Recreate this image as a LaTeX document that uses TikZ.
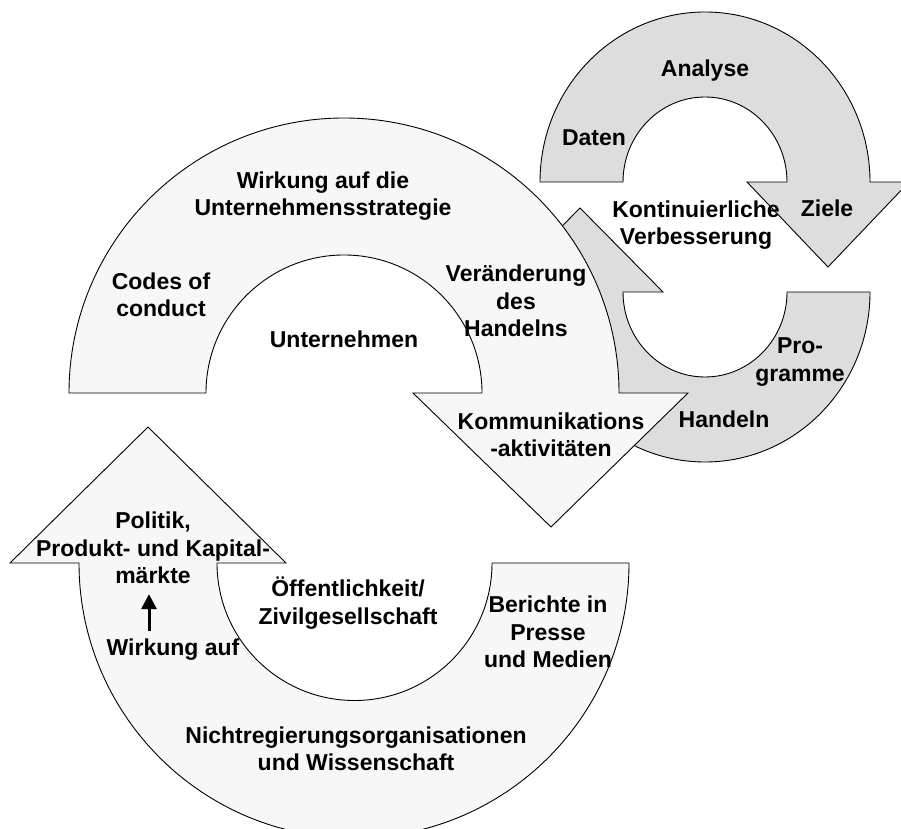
\documentclass[tikz,border=0pt]{standalone}
\usepackage{fontspec}
\setmainfont{Liberation Sans}
\usepackage{tikz}
\usetikzlibrary{calc, arrows.meta}
\usepackage{xcolor}
\definecolor{kreisgrau}{RGB}{221,221,221}
\definecolor{kreishell}{RGB}{247,247,247}

\begin{document}
\begin{tikzpicture}[x=1pt, y=1pt,
		bogen/.style={draw=black, line width=0.9pt, line join=miter},
		beschriftung/.style={align=center, inner sep=1pt, font=\fontsize{23}{27.5}\selectfont\bfseries},
		wirkpfeil/.style={-{Triangle[length=15pt,width=15pt]}, line width=3pt}]
			\useasboundingbox (0,0) rectangle (901,828);%
			%
			% kleiner Kreis: kontinuierliche Verbesserung
			\filldraw[bogen, fill=kreisgrau] (623,536) arc (180:360:82 and 85) -- (870,536) arc (0:-180:165 and 170) -- (497,536) -- (580,620) -- (663,536) -- cycle;%
			\filldraw[bogen, fill=kreisgrau] (540,646) arc (180:0:165 and 170) -- (909,646) -- (828,561) -- (747,646) -- (787,646) arc (0:180:82 and 85) -- cycle;%
			%
			% grosser Kreis: Unternehmen und Oeffentlichkeit
			\filldraw[bogen, fill=kreishell] (79,265) -- (10,265) -- (148,401) -- (286,265) -- (217,265) arc (180:360:137.5) -- (629,265) arc (0:-180:275) -- cycle;%
			\filldraw[bogen, fill=kreishell] (69,435) arc (180:0:275) -- (688,435) -- (551,301) -- (413,435) -- (482,435) arc (0:180:138) -- cycle;%
			%
			\node[beschriftung] (analyse) at (705,757) {Analyse};%
			\node[beschriftung] (daten) at (594,690) {Daten};%
			\node[beschriftung] (ziele) at (827,620) {Ziele};%
			\node[beschriftung] (verbesserung) at (696,603) {Kontinuierliche\\Verbesserung};%
			\node[beschriftung] (programme) at (800,466) {Pro-\\gramme};%
			\node[beschriftung] (handeln) at (724,409) {Handeln};%
			%
			\node[beschriftung] (strategie) at (323,632) {Wirkung auf die\\Unternehmensstrategie};%
			\node[beschriftung] (codes) at (161,533) {Codes of\\conduct};%
			\node[beschriftung] (unternehmen) at (344,489) {Unternehmen};%
			\node[beschriftung] (veraenderung) at (516,527) {Veränderung\\des\\Handelns};%
			\node[beschriftung] (kommunikation) at (551,393) {Kommunikations\\-aktivitäten};%
			%
			\node[beschriftung] (politik) at (153,280) {Politik,\\Produkt- und Kapital-\\märkte};%
			\node[beschriftung] (wirkung) at (173,178) {Wirkung auf};%
			\node[beschriftung] (oeffentlichkeit) at (348,225) {Öffentlichkeit/\\Zivilgesellschaft};%
			\node[beschriftung] (berichte) at (548,196) {Berichte in\\Presse\\und Medien};%
			\node[beschriftung] (ngo) at (356,79) {Nichtregierungsorganisationen\\und Wissenschaft};%
			%
			\draw[wirkpfeil, shorten <=7pt, shorten >=9pt] ($(politik.south |- wirkung.north)+(-4,0)$) -- ($(politik.south)+(-4,0)$);%
		\end{tikzpicture}
\end{document}
